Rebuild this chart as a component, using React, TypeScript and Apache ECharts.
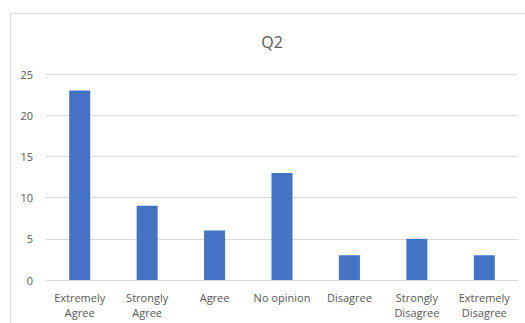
import React, { useEffect, useRef } from "react";
import * as echarts from "echarts";

const categories = [
  "Extremely\nAgree",
  "Strongly\nAgree",
  "Agree",
  "No opinion",
  "Disagree",
  "Strongly\nDisagree",
  "Extremely\nDisagree",
];
const values = [23, 9, 6, 13, 3, 5, 3];
const yTicks = { min: 0, max: 25, interval: 5 };
const title = "Q2";

export default function App() {
  const ref = useRef<HTMLDivElement>(null);
  useEffect(() => {
    if (!ref.current) return;
    const chart = echarts.init(ref.current, undefined, { renderer: "svg" });
    const font = "'Open Sans', 'Noto Sans', sans-serif";
    chart.setOption({
      animation: false,
      backgroundColor: "#ffffff",
      graphic: [
        {
          type: "rect",
          shape: { x: 10.5, y: 13.5, width: 530, height: 400 },
          style: { fill: "none", stroke: "#d9d9d9", lineWidth: 1 },
          silent: true,
          z: -1,
        },
        {
          type: "text",
          x: 272,
          y: 42,
          style: {
            text: title,
            fill: "#595959",
            font: `16px ${font}`,
            textAlign: "center",
            textVerticalAlign: "middle",
          },
        },
      ],
      grid: { left: 46, right: 7, top: 74, bottom: 43, containLabel: false },
      xAxis: {
        type: "category",
        data: categories,
        axisLine: { show: true, lineStyle: { color: "#d9d9d9", width: 1 } },
        axisTick: { show: false },
        axisLabel: {
          color: "#595959",
          fontSize: 11,
          fontFamily: font,
          margin: 10,
          lineHeight: 15,
          interval: 0,
        },
      },
      yAxis: {
        type: "value",
        min: yTicks.min,
        max: yTicks.max,
        interval: yTicks.interval,
        axisLine: { show: false },
        axisTick: { show: false },
        splitLine: { lineStyle: { color: "#d9d9d9", width: 1 } },
        axisLabel: {
          color: "#595959",
          fontSize: 11,
          fontFamily: font,
          margin: 13,
        },
      },
      series: [
        {
          type: "bar",
          data: values,
          barWidth: 21,
          itemStyle: { color: "#4472c4" },
        },
      ],
    });
    return () => chart.dispose();
  }, []);
  return (
    <div
      ref={ref}
      style={{ position: "fixed", left: 0, top: 0, width: 525, height: 323 }}
    />
  );
}
